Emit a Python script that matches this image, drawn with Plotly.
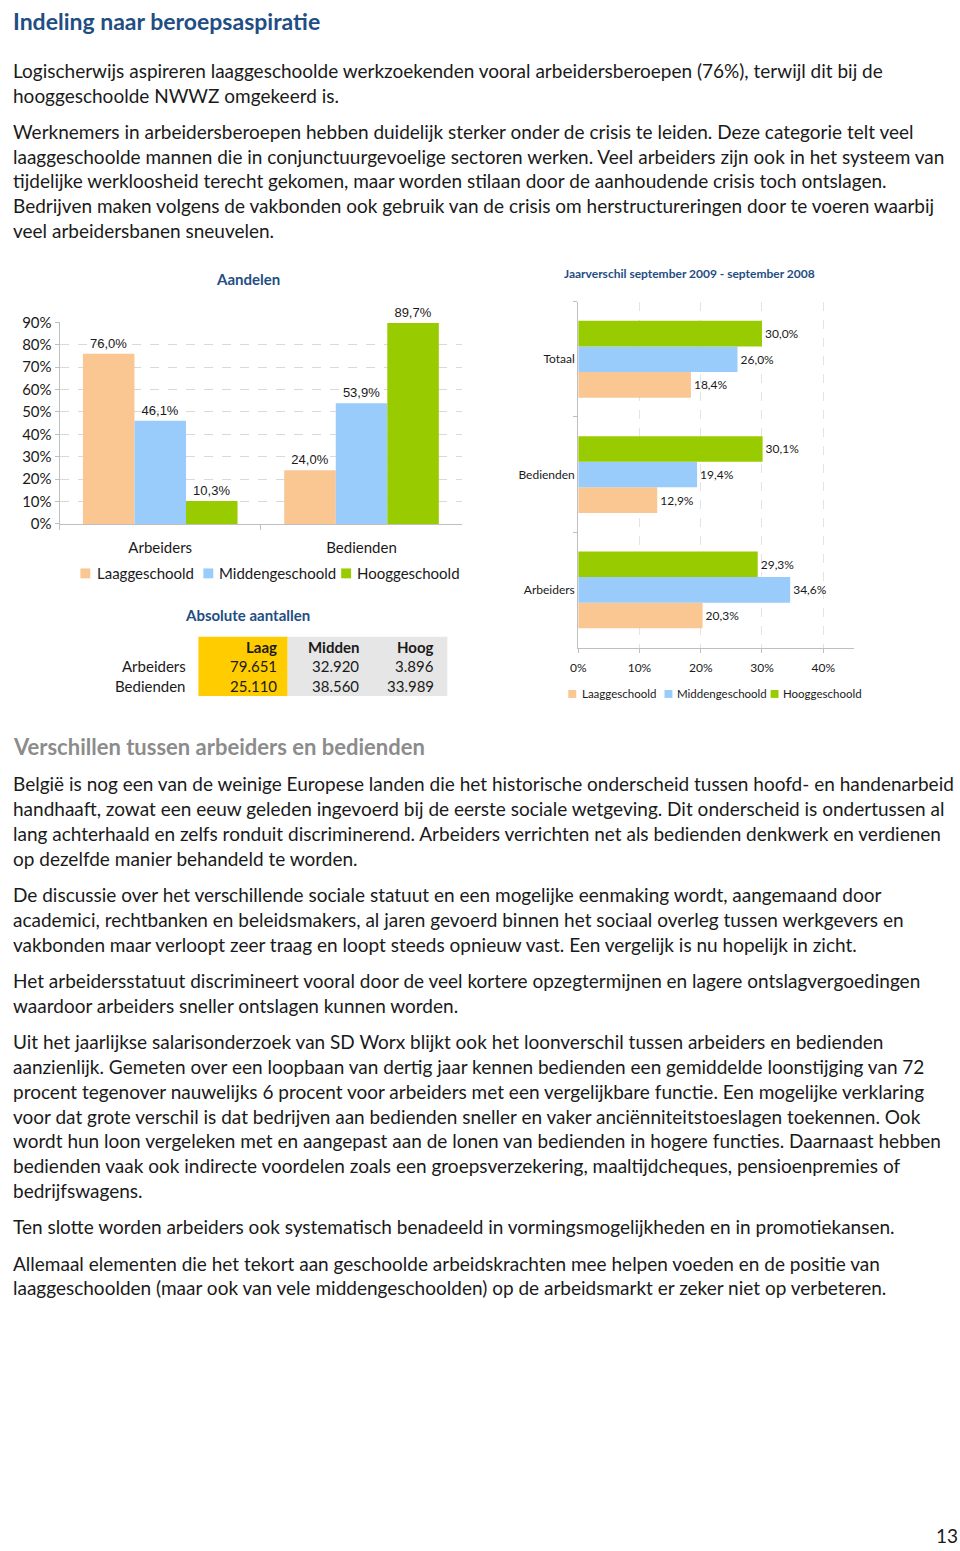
import plotly.graph_objects as go

W, H = 960, 1551
def X(px): return px / W
def Y(py): return 1 - py / H

# ---------------- data ----------------
levels = ["Laaggeschoold", "Middengeschoold", "Hooggeschoold"]
colors = ["#FAC692", "#99CCFA", "#99CC00"]

left_categories = ["Arbeiders", "Bedienden"]
share_laag = [76.0, 24.0]
share_midden = [46.1, 53.9]
share_hoog = [10.3, 89.7]

right_categories = ["Totaal", "Bedienden", "Arbeiders"]
diff_laag = [18.4, 12.9, 20.3]
diff_midden = [26.0, 19.4, 34.6]
diff_hoog = [30.0, 30.1, 29.3]

table_cols = ["Laag", "Midden", "Hoog"]
table_rows = ["Arbeiders", "Bedienden"]
abs_arbeiders = [79651, 32920, 3896]
abs_bedienden = [25110, 38560, 33989]

title = "Indeling naar beroepsaspiratie"
para1 = ["Logischerwijs aspireren laaggeschoolde werkzoekenden vooral arbeidersberoepen (76%), terwijl dit bij de",
         "hooggeschoolde NWWZ omgekeerd is."]
para2 = ["Werknemers in arbeidersberoepen hebben duidelijk sterker onder de crisis te leiden. Deze categorie telt veel",
         "laaggeschoolde mannen die in conjunctuurgevoelige sectoren werken. Veel arbeiders zijn ook in het systeem van",
         "tijdelijke werkloosheid terecht gekomen, maar worden stilaan door de aanhoudende crisis toch ontslagen.",
         "Bedrijven maken volgens de vakbonden ook gebruik van de crisis om herstructureringen door te voeren waarbij",
         "veel arbeidersbanen sneuvelen."]
subtitle = "Verschillen tussen arbeiders en bedienden"
para3 = ["België is nog een van de weinige Europese landen die het historische onderscheid tussen hoofd- en handenarbeid",
         "handhaaft, zowat een eeuw geleden ingevoerd bij de eerste sociale wetgeving. Dit onderscheid is ondertussen al",
         "lang achterhaald en zelfs ronduit discriminerend. Arbeiders verrichten net als bedienden denkwerk en verdienen",
         "op dezelfde manier behandeld te worden."]
para4 = ["De discussie over het verschillende sociale statuut en een mogelijke eenmaking wordt, aangemaand door",
         "academici, rechtbanken en beleidsmakers, al jaren gevoerd binnen het sociaal overleg tussen werkgevers en",
         "vakbonden maar verloopt zeer traag en loopt steeds opnieuw vast. Een vergelijk is nu hopelijk in zicht."]
para5 = ["Het arbeidersstatuut discrimineert vooral door de veel kortere opzegtermijnen en lagere ontslagvergoedingen",
         "waardoor arbeiders sneller ontslagen kunnen worden."]
para6 = ["Uit het jaarlijkse salarisonderzoek van SD Worx blijkt ook het loonverschil tussen arbeiders en bedienden",
         "aanzienlijk. Gemeten over een loopbaan van dertig jaar kennen bedienden een gemiddelde loonstijging van 72",
         "procent tegenover nauwelijks 6 procent voor arbeiders met een vergelijkbare functie. Een mogelijke verklaring",
         "voor dat grote verschil is dat bedrijven aan bedienden sneller en vaker anciënniteitstoeslagen toekennen. Ook",
         "wordt hun loon vergeleken met en aangepast aan de lonen van bedienden in hogere functies. Daarnaast hebben",
         "bedienden vaak ook indirecte voordelen zoals een groepsverzekering, maaltijdcheques, pensioenpremies of",
         "bedrijfswagens."]
para7 = ["Ten slotte worden arbeiders ook systematisch benadeeld in vormingsmogelijkheden en in promotiekansen."]
para8 = ["Allemaal elementen die het tekort aan geschoolde arbeidskrachten mee helpen voeden en de positie van",
         "laaggeschoolden (maar ook van vele middengeschoolden) op de arbeidsmarkt er zeker niet op verbeteren."]
page_number = "13"

# ---------------- styles ----------------
BODY = "Lato"
TXT = "#1a1a1a"
BLUE = "#1F4E84"
AXC = "#BFBFBF"

def pct(v):
    return f"{v:.1f}%".replace(".", ",")

def thousands(v):
    return f"{v:,}".replace(",", ".")

fig = go.Figure()

# left chart
left_vals = [share_laag, share_midden, share_hoog]
lw = 0.256
for i, (name, vals, col) in enumerate(zip(levels, left_vals, colors)):
    fig.add_trace(go.Bar(
        name=name, x=left_categories, y=vals, marker_color=col, marker_line_width=0,
        width=lw, offset=-1.5 * lw + i * lw,
        text=[pct(v) for v in vals], textposition="outside", cliponaxis=False,
        constraintext="none",
        textfont=dict(family="Liberation Sans", size=13, color=TXT),
        xaxis="x", yaxis="y", showlegend=False))

# right chart
right_vals = [diff_laag, diff_midden, diff_hoog]
rw = 0.222
for i, (name, vals, col) in enumerate(zip(levels, right_vals, colors)):
    fig.add_trace(go.Bar(
        name=name, y=right_categories, x=vals, orientation="h",
        marker_color=col, marker_line_width=0,
        width=rw, offset=-1.5 * rw + i * rw,
        text=[pct(v) for v in vals], textposition="outside", cliponaxis=False,
        constraintext="none",
        textfont=dict(family=BODY, size=12, color=TXT),
        xaxis="x2", yaxis="y2", showlegend=False))

fig.update_layout(
    width=W, height=H, margin=dict(l=0, r=0, t=0, b=0),
    paper_bgcolor="white", plot_bgcolor="white",
    barmode="overlay", showlegend=False,
    font=dict(family=BODY, color=TXT),
    xaxis=dict(domain=[X(52), X(458)], type="category", range=[-0.5, 1.5],
               tickson="boundaries", ticks="outside", ticklen=5, tickcolor=AXC,
               showline=True, linecolor=AXC, showgrid=False,
               tickfont=dict(family=BODY, size=15, color=TXT), ticklabelstandoff=10),
    yaxis=dict(domain=[Y(520), Y(316)], range=[0, 90], dtick=10, ticksuffix="%",
               showgrid=True, griddash="dash", gridcolor="#D9D9D9", zeroline=False,
               showline=True, linecolor=AXC, ticks="outside", ticklen=4, tickcolor=AXC,
               tickfont=dict(family=BODY, size=15, color=TXT)),
    xaxis2=dict(domain=[X(575), X(853)], anchor="y2", range=[0, 45], dtick=10, tick0=0,
                ticksuffix="%",
                showgrid=True, griddash="dash", gridcolor="#E3E3E3", zeroline=False,
                showline=True, linecolor=AXC, ticks="outside", ticklen=4, tickcolor=AXC,
                tickfont=dict(family=BODY, size=12, color=TXT), ticklabelstandoff=5),
    yaxis2=dict(domain=[Y(645), Y(295)], anchor="x2", type="category",
                categoryorder="array", categoryarray=right_categories[::-1],
                range=[-0.5, 2.5], tickson="boundaries", ticks="outside", ticklen=4,
                tickcolor=AXC, showline=True, linecolor=AXC, showgrid=False,
                tickfont=dict(family=BODY, size=12, color=TXT)),
)

ann = []
shapes = []

def text(px, py, s, size=19, color=TXT, bold=False, anchor="left", family=BODY):
    if bold:
        s = f"<b>{s}</b>"
    ann.append(dict(x=X(px), y=Y(py), xref="paper", yref="paper", text=s,
                    showarrow=False, xanchor=anchor, yanchor="middle",
                    font=dict(family=family, size=size, color=color), borderpad=0))

# page text
text(4, 11, title, size=23, color=BLUE, bold=True)
for k, line in enumerate(para1):
    text(4, 61 + 25 * k, line)
for k, line in enumerate(para2):
    text(4, 123 + 25 * k, line)
text(4, 745, subtitle, size=22, color="#8C8C8C", bold=True)
for start, para in [(783, para3), (895, para4), (982, para5), (1044, para6),
                    (1231, para7), (1268, para8)]:
    for k, line in enumerate(para):
        text(4, start + 25 * k, line)
text(959, 1543, page_number, size=19, anchor="right")

# chart titles
text(242, 272, "Aandelen", size=15, color=BLUE, bold=True, anchor="center")
text(687, 267, "Jaarverschil september 2009 - september 2008", size=12, color=BLUE,
     bold=True, anchor="center")

# left legend
for (sx, tx), name, col in zip([(73, 89), (197, 212), (336, 351)], levels, colors):
    shapes.append(dict(type="rect", xref="paper", yref="paper",
                       x0=X(sx), x1=X(sx + 10), y0=Y(575), y1=Y(565),
                       fillcolor=col, line_width=0))
    text(tx, 570, name, size=15)

# right legend
for (sx, tx), name, col in zip([(565, 578), (662, 674), (769, 781)], levels, colors):
    shapes.append(dict(type="rect", xref="paper", yref="paper",
                       x0=X(sx), x1=X(sx + 8), y0=Y(696), y1=Y(688),
                       fillcolor=col, line_width=0))
    text(tx, 692, name, size=11.5)

# table
text(242, 612, "Absolute aantallen", size=15, color=BLUE, bold=True, anchor="center")
shapes.append(dict(type="rect", xref="paper", yref="paper", x0=X(192), x1=X(282),
                   y0=Y(694), y1=Y(634), fillcolor="#FFCC00", line_width=0, layer="below"))
shapes.append(dict(type="rect", xref="paper", yref="paper", x0=X(282), x1=X(443),
                   y0=Y(694), y1=Y(634), fillcolor="#E6E6E6", line_width=0, layer="below"))
col_right = [272, 355, 431]
for cx, c in zip(col_right, table_cols):
    text(cx, 644, c, size=15, bold=True, anchor="right")
for ry, rname, vals in zip([664, 684], table_rows, [abs_arbeiders, abs_bedienden]):
    text(180, ry, rname, size=15, anchor="right")
    for cx, v in zip(col_right, vals):
        text(cx, ry, thousands(v), size=15, anchor="right")

fig.update_layout(annotations=ann, shapes=shapes)
fig.write_html("out.html", config={"displayModeBar": False},
               post_script="document.documentElement.style.margin='0px';"
                           "document.body.style.margin='0px';document.body.style.padding='0px';"
                           "document.documentElement.style.overflow='hidden';"
                           "document.body.style.overflow='hidden';")
